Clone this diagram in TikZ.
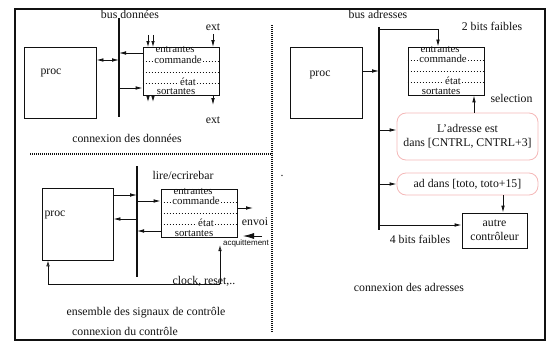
\documentclass[tikz,border=0pt]{standalone}
\usepackage{fontspec}
\setmainfont{Liberation Serif}
\setsansfont{Liberation Sans}
\usetikzlibrary{arrows.meta,calc}
\definecolor{rose}{HTML}{F4B8B8}
\definecolor{ink}{HTML}{111111}

\begin{document}
\begin{tikzpicture}[x=1pt, y=-1pt, ink, font=\fontsize{11.8}{14}\selectfont,
  >={Latex[length=7pt,width=3.6pt]},
  wire/.style={->, line width=0.8pt},
  both/.style={<->, line width=0.8pt},
  hollow/.style={-{Latex[open,length=6pt,width=3.6pt]}, line width=0.8pt},
  bus/.style={line width=2.4pt},
  sep/.style={line width=1.6pt, dash pattern=on 0.7pt off 1.3pt},
  dots/.style={line width=0.6pt, dash pattern=on 0.6pt off 2.4pt},
  box/.style={draw, line width=0.8pt, inner sep=0pt},
  reg/.style={draw, line width=0.8pt, minimum width=76, minimum height=48, inner sep=0pt},
  adr/.style={draw=rose, line width=0.8pt, rounded corners=9pt, minimum width=141, align=center},
  fld/.style={font=\fontsize{10.8}{12}\selectfont, inner sep=1pt}]

\useasboundingbox (0,0) rectangle (551,342);
\draw[line width=1.3pt] (15,9) rectangle (545,340);

% connexion des donnees
\node (busDlab) at (130,14) {bus données};
\coordinate (busDtop) at (119,18);
\coordinate (busDbot) at (119,117);
\draw[bus] (busDtop) -- (busDbot);
\node[box, minimum width=72, minimum height=71] (procD) at (60,82.5) {};
\node at (51,73) {proc};
\node[reg] (regD) at (181,71.5) {};
\draw[both] (procD.east |- 0,60) -- (busDtop |- 0,60);
\draw[wire] (regD.west |- 0,53) -- (busDtop |- 0,53);
\draw[wire] (busDtop |- 0,88) -- (regD.west |- 0,88);
\foreach \x in {148,153} {
  \coordinate (inD\x) at (\x,35);
  \coordinate (outD\x) at (\x,102);
  \draw[wire, -{Latex[length=6pt,width=3.4pt]}] (inD\x) -- (regD.north -| inD\x);
  \draw[wire, -{Latex[length=6pt,width=3.4pt]}] (regD.south -| outD\x) -- (outD\x);
}
\node (extin) at (213,27) {ext};
\node (extout) at (213,120) {ext};
\draw[wire] (extin) -- (regD.north -| extin);
\draw[wire, shorten >=8pt] (regD.south -| extout) -- (extout);
\node at (127,138) {connexion des données};

% separations
\draw[sep] (30,154) -- (272,154);
\draw[sep] (272,25) -- (272,332);

% connexion des adresses
\node (busAlab) at (378,14) {bus adresses};
\coordinate (busAtop) at (379,27);
\coordinate (busAbot) at (379,230);
\draw[bus] (busAtop) -- (busAbot);
\node[box, minimum width=72, minimum height=71] (procA) at (326,82.5) {};
\node at (320,75) {proc};
\node[reg] (regA) at (446,71) {};
\draw[wire] (procA.east |- 0,71) -- (busAtop |- 0,71);
\draw[wire] (busAtop |- 0,29) -| (regA.north -| 438,0);
\node at (492,26) {2 bits faibles};
\node[adr, minimum height=47] (adr1) at (467.5,136.5) {L'adresse est\\dans [CNTRL, CNTRL+3]};
\node[adr, minimum height=22] (adr2) at (467.5,184) {ad dans [toto, toto+15]};
\node[box, minimum width=65, minimum height=35, align=center] (autre) at (494.5,230.5) {autre\\contrôleur};
\draw[wire] (adr1.north -| 474,0) -- (regA.south -| 474,0);
\node[anchor=west] at (487,98) {selection};
\draw[wire] (busAtop |- 0,130) -- (adr1.west |- 0,130);
\draw[wire] (busAtop |- 0,184) -- (adr2.west);
\draw[wire] (adr2.south -| 503,0) -- (autre.north -| 503,0);
\draw[wire] (busAtop |- 0,225) -- (autre.west |- 0,225);
\node at (420,239) {4 bits faibles};
\node at (409,287) {connexion des adresses};

% connexion du controle
\coordinate (busCtop) at (137,166);
\coordinate (busCbot) at (137,277);
\draw[bus] (busCtop) -- (busCbot);
\node[box, minimum width=71, minimum height=72] (procC) at (77.5,224) {};
\node at (55,215) {proc};
\node[reg] (regC) at (199,213) {};
\node at (183,175) {lire/ecrirebar};
\draw[wire] (procC.east |- 0,195) -- (busCtop |- 0,195);
\draw[wire] (busCtop |- 0,219) -- (procC.east |- 0,219);
\draw[wire] (busCtop |- 0,201) -- (regC.west |- 0,201);
\draw[wire] (regC.west |- 0,231) -- (busCtop |- 0,231);
\coordinate (envoiend) at (253,208);
\draw[wire] (regC.east |- envoiend) -- (envoiend);
\node at (255,222) {envoi};
\coordinate (acqstart) at (262,236);
\coordinate (acqend) at (243,236);
\draw[wire, -{Latex[length=11pt,width=6pt]}] (acqstart) -- (acqend);
\node[font=\sffamily\fontsize{8}{9}\selectfont] at (246,243) {acquittement};
\coordinate (clk) at (220,284);
\coordinate (acqin) at (220,245);
\draw[hollow] (clk) -| (procC.south -| 48,0);
\draw[hollow] (clk) -- (acqin);
\node[anchor=base] at (204,284.5) {clock, reset,..};
\node at (146,313) {ensemble des signaux de contrôle};
\node at (125,331) {connexion du contrôle};
\node[anchor=base] at (282,176.5) {.};

% champs des registres
\foreach \r in {regD,regA,regC} {
  \draw[dots] ([yshift=-14]\r.north west) -- ([yshift=-14]\r.north east);
  \draw[dots] ([yshift=-25]\r.north west) -- ([yshift=-25]\r.north east);
  \draw[dots] ([yshift=-36]\r.north west) -- ([yshift=-36]\r.north east);
  \node[fld, anchor=base] at ([xshift=-6,yshift=-5.5]\r.north) {entrantes};
  \node[fld, fill=white, anchor=base] at ([xshift=-3,yshift=-16]\r.north) {commande};
  \node[fld, fill=white, anchor=base] at ([xshift=7,yshift=-38]\r.north) {état};
  \node[fld, anchor=base] at ([xshift=-5,yshift=-47.5]\r.north) {sortantes};
}

\end{tikzpicture}
\end{document}
